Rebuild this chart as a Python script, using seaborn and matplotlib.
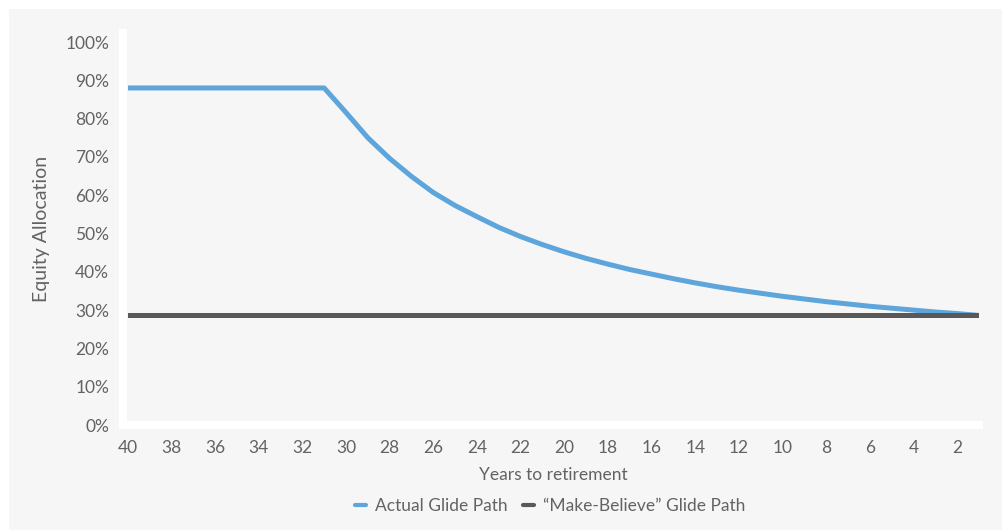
import numpy as np
import pandas as pd
import matplotlib
matplotlib.use("Agg")
import matplotlib.pyplot as plt
import matplotlib.ticker as mtick
from matplotlib.patches import Rectangle
import seaborn as sns

# Data
years = list(range(40, 0, -1))
actual = [88, 88, 88, 88, 88, 88, 88, 88, 88, 88,
          81.6, 75.0, 69.6, 64.9, 60.7, 57.3, 54.4, 51.6, 49.2, 47.1,
          45.2, 43.5, 42.0, 40.6, 39.4, 38.2, 37.1, 36.1, 35.2, 34.4,
          33.6, 32.9, 32.2, 31.6, 31.0, 30.5, 30.0, 29.5, 29.1, 28.6]
make_believe = [28.6] * 40
series_names = ["Actual Glide Path", "\u201cMake-Believe\u201d Glide Path"]
xtick_labels = list(range(40, 0, -2))

df = pd.DataFrame({
    "year": years * 2,
    "equity": np.array(actual + make_believe) / 100,
    "series": [series_names[0]] * 40 + [series_names[1]] * 40,
})

BG = "#f6f6f6"
TXT = "#636363"

sns.set_style("white")
plt.rcParams["font.family"] = ["Lato", "DejaVu Sans"]

fig = plt.figure(figsize=(10.03, 5.30), dpi=100, facecolor="white")
fig.patches.append(Rectangle((9 / 1003, 0), 1, 1 - 9 / 530, transform=fig.transFigure,
                             facecolor=BG, edgecolor="none", zorder=-1))
ax = fig.add_axes([127.7 / 1003, 105 / 530, (979 - 127.7) / 1003, 392 / 530])
ax.set_zorder(1)
ax.set_facecolor(BG)

sns.lineplot(data=df, x="year", y="equity", hue="series", hue_order=series_names,
             palette=["#5da5da", "#595959"], linewidth=3.6, ax=ax, legend=True)

ax.set_xlim(40, 1)
ax.set_ylim(0, 1.0235)
ax.set_xticks(xtick_labels)
ax.set_xticklabels([str(v) for v in xtick_labels])
ax.set_yticks(np.arange(0, 1.01, 0.1))
ax.yaxis.set_major_formatter(mtick.PercentFormatter(1.0, decimals=0))
ax.tick_params(axis="both", length=0, labelsize=12.5, labelcolor=TXT)
ax.tick_params(axis="y", pad=10)
ax.tick_params(axis="x", pad=11)

for s in ["top", "right"]:
    ax.spines[s].set_visible(False)
ax.spines["left"].set_color("white")
ax.spines["left"].set_linewidth(5.8)
ax.spines["left"].set_position(("outward", 3.3))
ax.spines["bottom"].set_color("white")
ax.spines["bottom"].set_linewidth(5.8)

ax.set_xlabel("Years to retirement", fontsize=12.5, color=TXT, labelpad=8)
ax.set_ylabel("Equity Allocation", fontsize=14, color=TXT, labelpad=11)

leg = ax.legend(loc="center", bbox_to_anchor=(550 / 1003, 24 / 530),
                bbox_transform=fig.transFigure, ncol=2, frameon=False,
                fontsize=12.5, handlelength=0.65, handletextpad=0.5,
                columnspacing=0.9)
for line in leg.get_lines():
    line.set_linewidth(3)
for t in leg.get_texts():
    t.set_color(TXT)

fig.savefig("out.png", dpi=100, facecolor=fig.get_facecolor())
